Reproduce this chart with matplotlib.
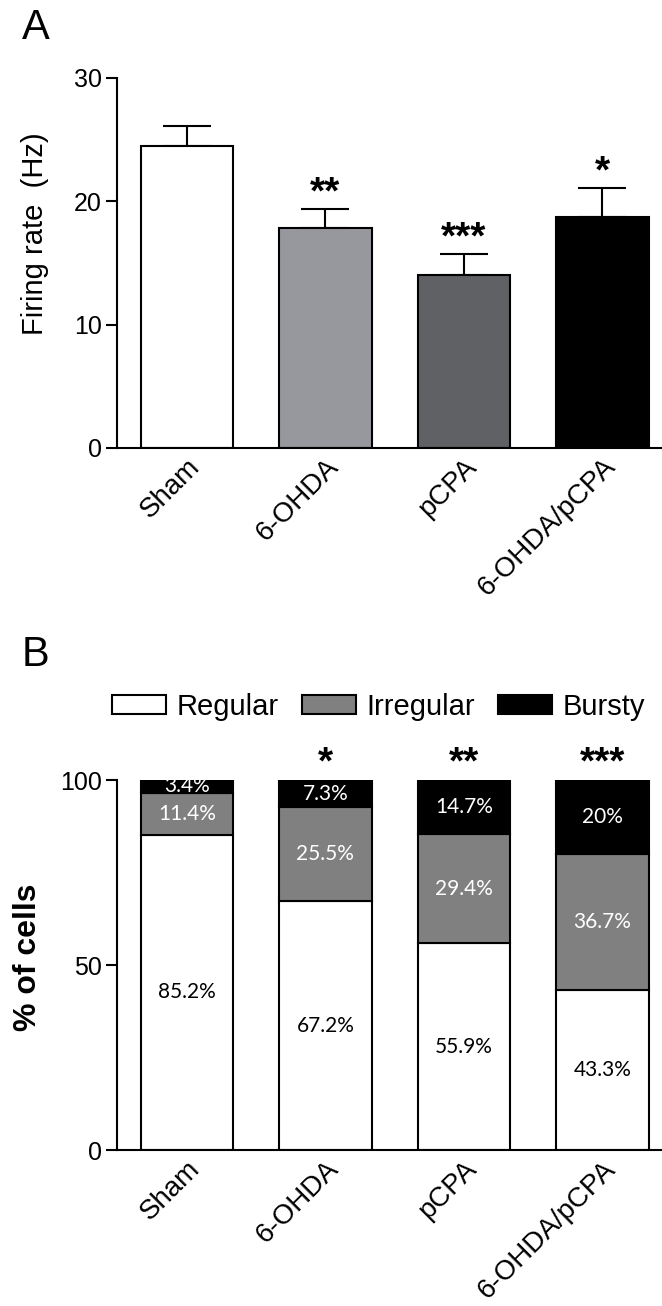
import numpy as np
import matplotlib
matplotlib.use("Agg")
import matplotlib.pyplot as plt
import matplotlib.transforms as mtransforms
from matplotlib.patches import Patch

plt.rcParams['font.family'] = ['Liberation Sans', 'DejaVu Sans']

# data
groups = ["Sham", "6-OHDA", "pCPA", "6-OHDA/pCPA"]
rate_mean = [24.5, 17.8, 14.0, 18.7]
rate_sem = [1.6, 1.55, 1.7, 2.4]
rate_stars = ["", "**", "***", "*"]
rate_colors = ["white", "#97989d", "#5f6164", "black"]

pattern_names = ["Regular", "Irregular", "Bursty"]
regular = [85.2, 67.2, 55.9, 43.3]
irregular = [11.4, 25.5, 29.4, 36.7]
bursty = [3.4, 7.3, 14.7, 20.0]
pattern_stars = ["", "*", "**", "***"]
pattern_colors = ["white", "#808080", "black"]
label_colors = ["black", "white", "white"]

fig = plt.figure(figsize=(6.62, 13.06), dpi=100)
axA = fig.add_axes([0.1767, 0.6570, 0.8233, 0.2833])
axB = fig.add_axes([0.1767, 0.1194, 0.8233, 0.2833])

x = np.arange(len(groups))
bw = 0.67

def style_axis(ax):
    for s in ["top", "right"]:
        ax.spines[s].set_visible(False)
    for s in ["left", "bottom"]:
        ax.spines[s].set_linewidth(1.5)
    ax.tick_params(axis="y", length=8, width=1.5, pad=3, labelsize=18)
    ax.tick_params(axis="x", length=0, pad=5, labelsize=20)
    ax.set_xlim(-0.505, 3.43)
    ax.set_xticks(x)
    ax.set_xticklabels(groups, rotation=45, ha="right", va="center",
                       rotation_mode="anchor")
    # nudge labels right/down like the original
    off = mtransforms.ScaledTranslation(0.09, -0.08, fig.dpi_scale_trans)
    for lab in ax.get_xticklabels():
        lab.set_transform(lab.get_transform() + off)

# panel A
axA.bar(x, rate_mean, width=bw, color=rate_colors, edgecolor="black", linewidth=1.5, zorder=2)
axA.errorbar(x, rate_mean, yerr=[np.zeros(4), rate_sem], fmt="none", ecolor="black",
             elinewidth=1.5, capsize=17, capthick=1.5, zorder=1)
for i, s in enumerate(rate_stars):
    if s:
        axA.text(x[i], rate_mean[i] + rate_sem[i] - 0.2, s, ha="center", va="bottom",
                 fontsize=28, fontweight="bold")
axA.set_ylim(0, 30)
axA.set_yticks([0, 10, 20, 30])
style_axis(axA)
axA.set_ylabel("Firing rate  (Hz)", fontsize=21)
axA.yaxis.set_label_coords(-0.125, 0.58)

# panel B
segs = [regular, irregular, bursty]
bottom = np.zeros(4)
for k, seg in enumerate(segs):
    axB.bar(x, seg, width=bw, bottom=bottom, color=pattern_colors[k], edgecolor="black",
            linewidth=1.5, label=pattern_names[k], zorder=2)
    for i in range(4):
        lab = ("%g%%" % seg[i])
        axB.text(x[i], bottom[i] + seg[i] / 2, lab, ha="center", va="center",
                 color=label_colors[k], fontsize=15, family=["Lato", "DejaVu Sans"], zorder=3)
    bottom = bottom + np.array(seg)
for i, s in enumerate(pattern_stars):
    if s:
        axB.text(x[i], 99.6, s, ha="center", va="bottom", fontsize=28, fontweight="bold")
axB.set_ylim(0, 100)
axB.set_yticks([0, 50, 100])
style_axis(axB)
axB.set_ylabel("% of cells", fontsize=23, fontweight="bold")
axB.yaxis.set_label_coords(-0.135, 0.52)

handles = [Patch(facecolor=c, edgecolor="black", linewidth=1.5) for c in pattern_colors]
fig.legend(handles, pattern_names, loc="center", bbox_to_anchor=(0.572, 0.459), ncol=3,
           frameon=False, fontsize=21, handlelength=1.85, handleheight=0.65,
           handletextpad=0.35, columnspacing=0.8, borderaxespad=0, borderpad=0)

fig.text(22 / 662, 1 - 8 / 1306, "A", fontsize=30, va="top", ha="left")
fig.text(22 / 662, 1 - 635 / 1306, "B", fontsize=30, va="top", ha="left")

fig.savefig("out.png", dpi=100)
